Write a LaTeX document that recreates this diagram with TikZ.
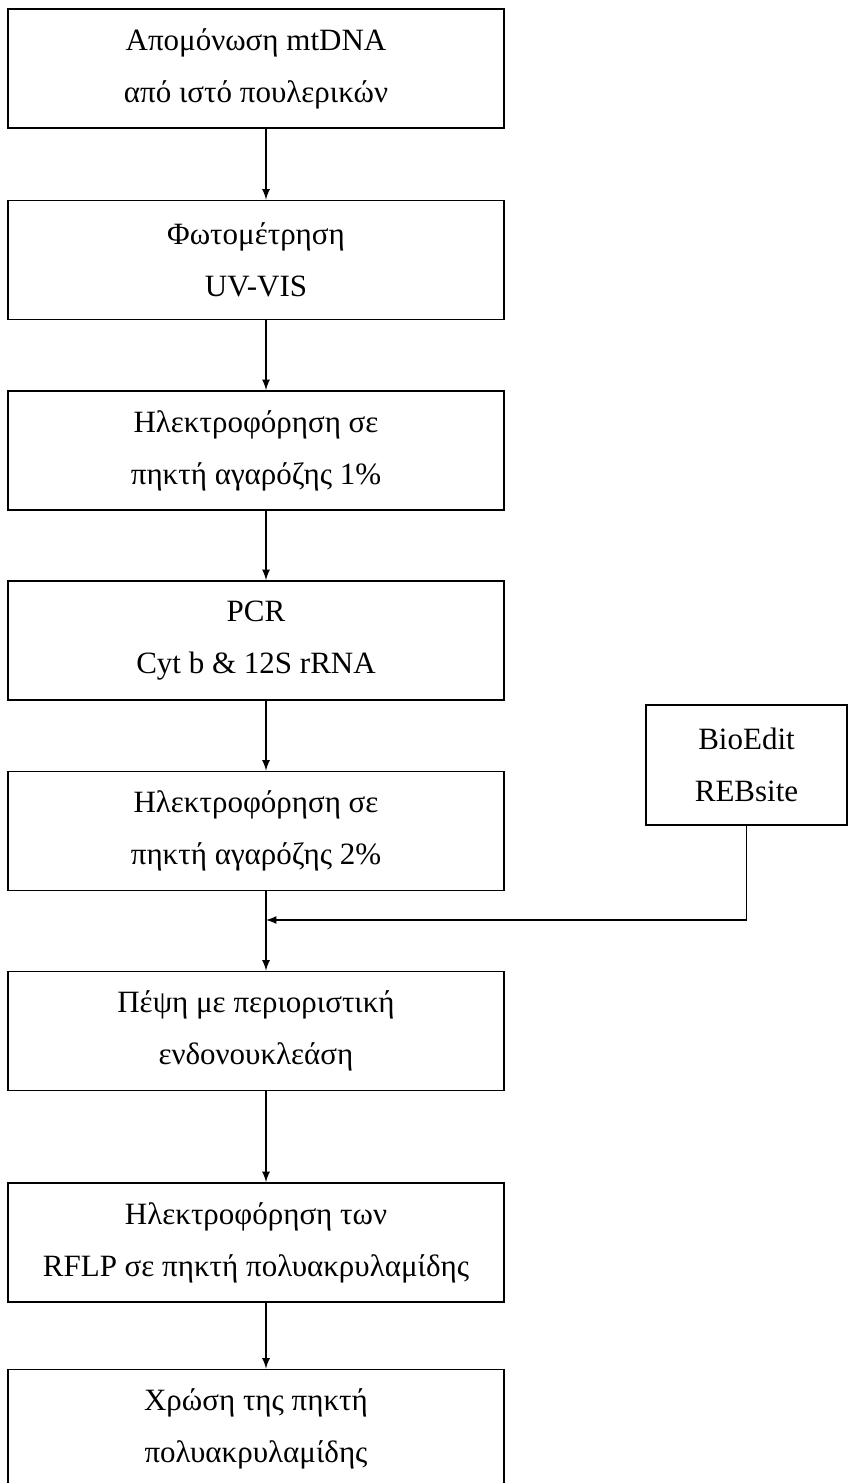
\documentclass[tikz,border=0pt]{standalone}
\usepackage{fontspec}
\setmainfont{Liberation Serif}
\usetikzlibrary{calc}

\begin{document}
\begin{tikzpicture}[
		x=0.5pt, y=-0.5pt,
		every node/.style={font=\fontsize{15.5}{26}\selectfont},
		stepbox/.style={draw, line width=0.9pt, minimum width=248pt, minimum height=59.5pt, align=center, inner sep=0pt},
		toolbox/.style={draw, line width=0.9pt, minimum width=100.5pt, minimum height=60pt, align=center, inner sep=0pt},
		link/.style={draw, line width=0.8pt, -latex}
	]
	\useasboundingbox (0,0) rectangle (849,1483);

	\node[stepbox] (isol)   at (256,68.5)  {Απομόνωση mtDNA\\από ιστό πουλερικών};
	\node[stepbox] (photo)  at (256,260)   {Φωτομέτρηση\\UV-VIS};
	\node[stepbox] (gel1)   at (256,450.5) {Ηλεκτροφόρηση σε\\πηκτή αγαρόζης 1\%};
	\node[stepbox] (pcr)    at (256,640.5) {PCR\\Cyt b \& 12S rRNA};
	\node[stepbox] (gel2)   at (256,831)   {Ηλεκτροφόρηση σε\\πηκτή αγαρόζης 2\%};
	\node[stepbox] (digest) at (256,1031)  {Πέψη με περιοριστική\\ενδονουκλεάση};
	\node[stepbox] (page)   at (256,1242.5) {Ηλεκτροφόρηση των\\RFLP σε πηκτή πολυακρυλαμίδης};
	\node[stepbox] (stain)  at (256,1429)  {Χρώση της πηκτή\\πολυακρυλαμίδης};

	\node[toolbox] (tools)  at (746.5,765) {BioEdit\\REBsite};
	\coordinate (join) at (266,920);

	\draw[link] ([xshift=5pt]isol.south)  -- ([xshift=5pt]photo.north);
	\draw[link] ([xshift=5pt]photo.south) -- ([xshift=5pt]gel1.north);
	\draw[link] ([xshift=5pt]gel1.south)  -- ([xshift=5pt]pcr.north);
	\draw[link] ([xshift=5pt]pcr.south)   -- ([xshift=5pt]gel2.north);
	\draw[link] ([xshift=5pt]gel2.south)  -- ([xshift=5pt]digest.north);
	\draw[link] (tools.south) |- (join);
	\draw[link] ([xshift=5pt]digest.south) -- ([xshift=5pt]page.north);
	\draw[link] ([xshift=5pt]page.south)  -- ([xshift=5pt]stain.north);

\end{tikzpicture}
\end{document}
